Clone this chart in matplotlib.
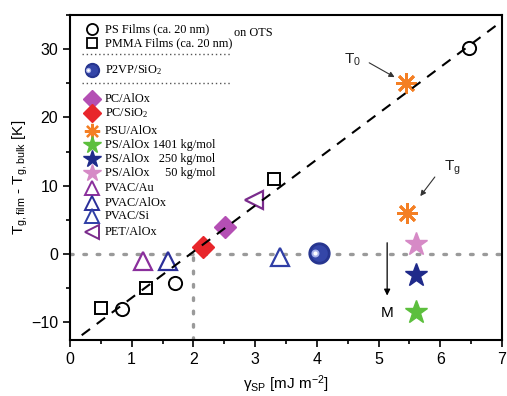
import numpy as np
import matplotlib
matplotlib.use("Agg")
import matplotlib.pyplot as plt
from matplotlib.ticker import MultipleLocator

plt.rcParams['font.family'] = ['Liberation Sans', 'DejaVu Sans']
plt.rcParams['mathtext.default'] = 'regular'

# surface energy gamma_SP [mJ m^-2] and Tg shift [K]
ps_x = [0.84, 1.70, 6.47]
ps_y = [-8.1, -4.2, 30.1]
pmma_x = [0.50, 1.23, 3.31]
pmma_y = [-7.95, -5.0, 11.0]
p2vp_x, p2vp_y = [4.03], [0.1]
pc_alox_x, pc_alox_y = [2.51], [4.0]
pc_sio2_x, pc_sio2_y = [2.15], [1.07]
psu_x = [5.45, 5.46]          # T0, Tg
psu_y = [25.0, 5.95]
ps1401_x, ps1401_y = [5.60], [-8.5]
ps250_x, ps250_y = [5.60], [-3.1]
ps50_x, ps50_y = [5.61], [1.4]
pvac_au_x, pvac_au_y = [1.19], [-1.1]
pvac_alox_x, pvac_alox_y = [1.59], [-1.1]
pvac_si_x, pvac_si_y = [3.40], [-0.4]
pet_x, pet_y = [2.99], [7.9]

# linear guide line end points
fit_x = [0.19, 7.0]
fit_y = [-11.9, 34.1]

SERIF = ['Liberation Serif', 'DejaVu Serif']
LFS = 8.8

fig = plt.figure(figsize=(5.07, 3.96), dpi=100)
ax = fig.add_axes([0.138, 0.1414, 0.852, 0.8207])

# reference lines at gamma = 2 and dTg = 0
ax.plot([0, 7], [0, 0], color='#9a9a9a', lw=2.4, ls=(0, (0.8, 3.2)),
        dash_capstyle='round', zorder=1)
ax.plot([2, 2], [-12.6, 0], color='#9a9a9a', lw=2.4, ls=(0, (0.8, 3.2)),
        dash_capstyle='round', zorder=1)

ax.plot(ps_x, ps_y, 'o', ms=9.5, mfc='none', mec='black', mew=1.4, ls='none', zorder=3)
ax.plot(pmma_x, pmma_y, 's', ms=8.5, mfc='none', mec='black', mew=1.4, ls='none', zorder=3)

def sphere(x, y, ms, z=3, transform=None):
    # shaded ball: dark base, lighter body, small highlight left of centre
    kw = {} if transform is None else {'transform': transform}
    ax.plot(x, y, 'o', ms=ms, mfc='#26358f', mec='#26358f', ls='none', zorder=z, **kw)
    ax.plot(x, y, 'o', ms=ms * 0.8, mfc='#3446a8', mec='none', ls='none', zorder=z, **kw)
    if transform is None:
        hx = [v - 0.06 * ms / 15 for v in x]
    else:
        hx = [v - 0.008 for v in x]
    ax.plot(hx, y, 'o', ms=ms * 0.38, mfc='#aab3ea', mec='none', ls='none', zorder=z, **kw)
    ax.plot(hx, y, 'o', ms=ms * 0.2, mfc='white', mec='none', ls='none', zorder=z, **kw)

sphere(p2vp_x, p2vp_y, 15)

ax.plot(pc_alox_x, pc_alox_y, 'D', ms=11, color='#b44fb4', ls='none', zorder=3)
ax.plot(pc_sio2_x, pc_sio2_y, 'D', ms=11, color='#e8262b', ls='none', zorder=3)
ax.plot(psu_x, psu_y, marker=(8, 2, 0), ms=15, mec='#f47f24', mew=2.0, ls='none', zorder=3)
ax.plot(ps1401_x, ps1401_y, '*', ms=17, color='#5cbf3d', ls='none', zorder=3)
ax.plot(ps250_x, ps250_y, '*', ms=17, color='#1f2a8a', ls='none', zorder=3)
ax.plot(ps50_x, ps50_y, '*', ms=17, color='#d68ac6', ls='none', zorder=3)
ax.plot(pvac_au_x, pvac_au_y, '^', ms=13, mfc='none', mec='#8a2f9c', mew=1.6, ls='none', zorder=3)
ax.plot(pvac_alox_x, pvac_alox_y, '^', ms=13, mfc='none', mec='#2b2f99', mew=1.6, ls='none', zorder=3)
ax.plot(pvac_si_x, pvac_si_y, '^', ms=13, mfc='none', mec='#2f3ea6', mew=1.6, ls='none', zorder=3)
ax.plot(pet_x, pet_y, '<', ms=13, mfc='none', mec='#7a2b8c', mew=1.6, ls='none', zorder=3)

ax.plot(fit_x, fit_y, color='black', lw=1.5, ls=(0, (5, 4)), zorder=4)

# annotations
ax.annotate('', xy=(5.30, 25.7), xytext=(4.81, 28.2),
            arrowprops=dict(arrowstyle='-|>', color='#333333', lw=0.8, mutation_scale=8))
ax.text(4.57, 28.5, 'T$_0$', fontsize=11, ha='center', va='center', color='#222222')
ax.annotate('', xy=(5.65, 8.15), xytext=(5.94, 11.6),
            arrowprops=dict(arrowstyle='-|>', color='#333333', lw=0.8, mutation_scale=8))
ax.text(6.19, 12.6, 'T$_g$', fontsize=11, ha='center', va='center', color='#222222')
ax.annotate('', xy=(5.14, -6.5), xytext=(5.14, 2.05),
            arrowprops=dict(arrowstyle='-|>', color='black', lw=0.9, mutation_scale=9))
ax.text(5.14, -8.6, 'M', fontsize=11, ha='center', va='center')

# hand-made legend (axes fraction)
lx, tx = 0.050, 0.081
def row(ypx):
    return (340 - ypx) / 325.0

entries = [
    (29.3, 'PS Films (ca. 20 nm)', dict(marker='o', ms=8, mfc='none', mec='black', mew=1.3)),
    (43.3, 'PMMA Films (ca. 20 nm)', dict(marker='s', ms=7.5, mfc='none', mec='black', mew=1.3)),
    (98.7, 'PC/AlOx', dict(marker='D', ms=9, color='#b44fb4')),
    (113.3, 'PC/SiO$_2$', dict(marker='D', ms=9, color='#e8262b')),
    (130.7, 'PSU/AlOx', dict(marker=(8, 2, 0), ms=11, mec='#f47f24', mew=1.6)),
    (145.0, 'PS/AlOx 1401 kg/mol', dict(marker='*', ms=13, color='#5cbf3d')),
    (159.3, 'PS/AlOx   250 kg/mol', dict(marker='*', ms=13, color='#1f2a8a')),
    (173.3, 'PS/AlOx     50 kg/mol', dict(marker='*', ms=13, color='#d68ac6')),
    (187.7, 'PVAC/Au', dict(marker='^', ms=10, mfc='none', mec='#8a2f9c', mew=1.4)),
    (202.7, 'PVAC/AlOx', dict(marker='^', ms=10, mfc='none', mec='#2b2f99', mew=1.4)),
    (216.0, 'PVAC/Si', dict(marker='^', ms=10, mfc='none', mec='#2f3ea6', mew=1.4)),
    (231.7, 'PET/AlOx', dict(marker='<', ms=10, mfc='none', mec='#7a2b8c', mew=1.4)),
]
for ypx, label, style in entries:
    ax.plot([lx], [row(ypx)], transform=ax.transAxes, ls='none', zorder=5, **style)
    ax.text(tx, row(ypx), label, transform=ax.transAxes, fontsize=LFS,
            family=SERIF, va='center', ha='left')

sphere([lx], [row(70.0)], 10, z=5, transform=ax.transAxes)
ax.text(tx, row(70.0), 'P2VP/SiO$_2$', transform=ax.transAxes, fontsize=LFS,
        family=SERIF, va='center', ha='left')
ax.text((253 - 70) / 432.0, row(33.0), 'on OTS', transform=ax.transAxes, fontsize=LFS,
        family=SERIF, va='center', ha='center')

for ypx in (54.3, 83.3):
    ax.plot([0.027, 0.374], [row(ypx), row(ypx)], transform=ax.transAxes,
            color='#555555', lw=1.0, ls=(0, (1, 2)), zorder=5)

ax.set_xlim(0, 7)
ax.set_ylim(-12.6, 35)
ax.xaxis.set_major_locator(MultipleLocator(1))
ax.xaxis.set_minor_locator(MultipleLocator(0.5))
ax.yaxis.set_major_locator(MultipleLocator(10))
ax.yaxis.set_minor_locator(MultipleLocator(5))
ax.tick_params(which='both', direction='out', width=1.2, labelsize=11.5, colors='black')
ax.tick_params(which='major', length=5)
ax.tick_params(which='minor', length=3)
for sp in ax.spines.values():
    sp.set_linewidth(1.5)

ax.set_xlabel(r'$\gamma_{SP}$ [mJ m$^{-2}$]', fontsize=11, labelpad=5)
ax.set_ylabel('T$_{g,film}$ - T$_{g,bulk}$ [K]', fontsize=11, labelpad=1)

fig.savefig('out.png', dpi=100)
